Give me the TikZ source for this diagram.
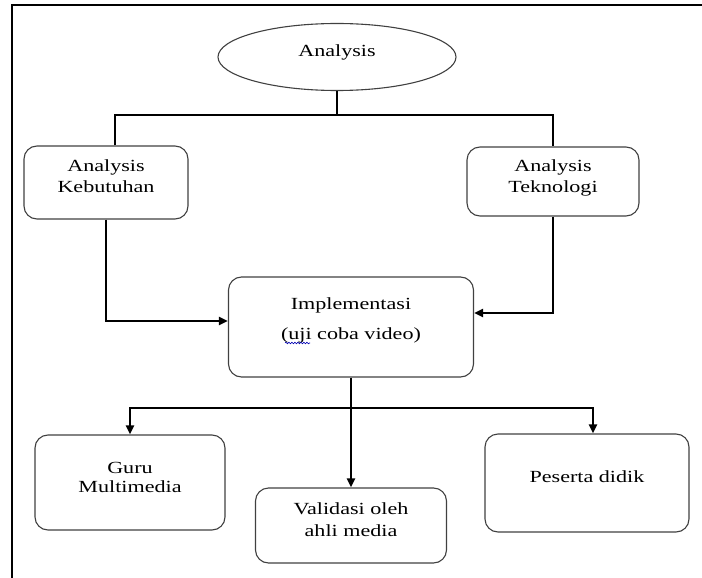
\documentclass[tikz,border=0pt]{standalone}
\usepackage{fontspec}
\setmainfont[FakeStretch=1.3]{Liberation Serif}
\usetikzlibrary{arrows.meta,shapes.geometric,decorations.pathmorphing}
\begin{document}
\begin{tikzpicture}[x=1pt,y=-1pt,
  box/.style={draw=black!75, line width=1.1pt, rounded corners=13pt, inner sep=0pt},
  conn/.style={line width=2.2pt},
  arr/.style={conn, -{Triangle[length=9pt,width=8pt]}},
  txt/.style={font=\fontsize{17}{20}\selectfont, anchor=base, inner sep=0pt}]
\useasboundingbox (0,0) rectangle (702,578);
% frame
\draw[line width=1.3pt] (12,578) -- (12,5) -- (702,5);
% shapes
\node[draw=black!75, line width=1.1pt, ellipse, minimum width=238pt, minimum height=67pt, inner sep=0pt] (an) at (337,57) {};
\node[box, minimum width=164pt, minimum height=73pt] (kb) at (106,182.5) {};
\node[box, minimum width=172pt, minimum height=69pt] (tb) at (553,181.5) {};
\node[box, minimum width=245pt, minimum height=100pt] (im) at (351,327) {};
\node[box, minimum width=190pt, minimum height=95pt] (gm) at (130,482.5) {};
\node[box, minimum width=191pt, minimum height=75pt] (va) at (351,525.5) {};
\node[box, minimum width=204pt, minimum height=98pt] (pd) at (587,483) {};
% texts
\node[txt] (tan) at (337,57) {Analysis};
\node[txt] (tkb1) at (106,171) {Analysis};
\node[txt] (tkb2) at (106,192) {Kebutuhan};
\node[txt] (ttb1) at (553,171) {Analysis};
\node[txt] (ttb2) at (553,192) {Teknologi};
\node[txt] (tim1) at (351,309) {Implementasi};
\node[txt] (tim2) at (351,339) {(uji coba video)};
\node[txt] (tgm1) at (130,473) {Guru};
\node[txt] (tgm2) at (130,492) {Multimedia};
\node[txt] (tva1) at (351,514) {Validasi oleh};
\node[txt] (tva2) at (351,536) {ahli media};
\node[txt] (tpd) at (587,482) {Peserta didik};
% spell-check squiggle under "uji"
\draw[blue!70!black, line width=0.6pt, decorate, decoration={snake, amplitude=0.8pt, segment length=3pt}] (285,343) -- (310,343);
% connectors
\coordinate (top) at (337,115);
\coordinate (split) at (351,408);
\draw[conn] (an.south) -- (top);
\draw[conn] ([xshift=9pt]kb.north) |- (top) -| (tb.north);
\draw[arr] (kb.south) |- ([yshift=6pt]im.west);
\draw[arr] (tb.south) |- ([yshift=14pt]im.east);
\draw[conn] (im.south) -- (split);
\draw[arr] (split) -| (gm.north);
\draw[arr] (split) -| ([xshift=6pt]pd.north);
\draw[arr] (split) -- (va.north);
\end{tikzpicture}
\end{document}
